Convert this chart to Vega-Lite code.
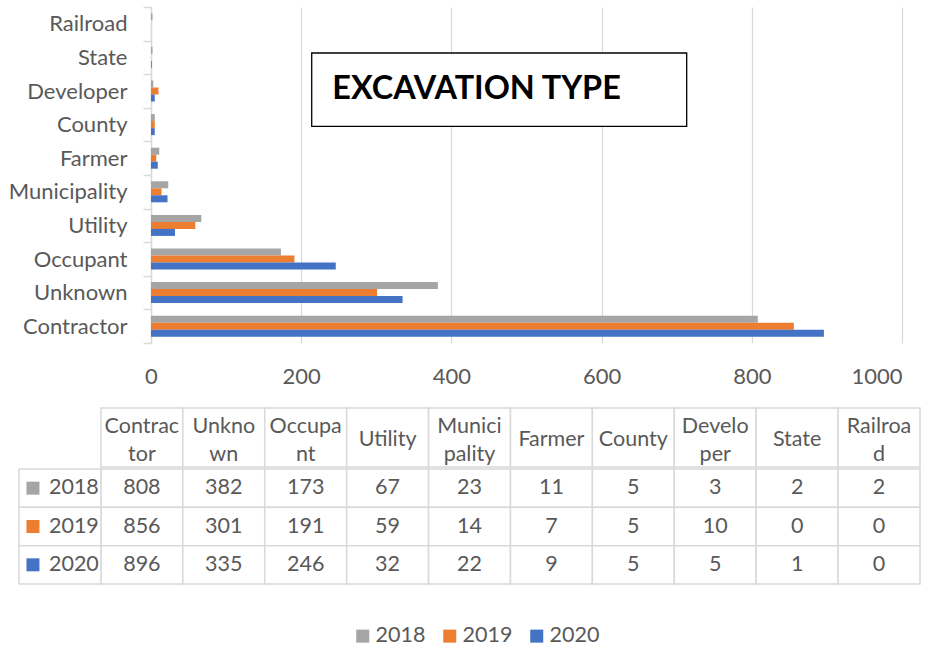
{
  "$schema": "https://vega.github.io/schema/vega-lite/v6.json",
  "background": "white",
  "padding": {"left": 8, "top": -4, "right": 5, "bottom": 5},
  "datasets": {
    "counts": [
      {"type": "Contractor", "year": "2018", "count": 808},
      {"type": "Contractor", "year": "2019", "count": 856},
      {"type": "Contractor", "year": "2020", "count": 896},
      {"type": "Unknown", "year": "2018", "count": 382},
      {"type": "Unknown", "year": "2019", "count": 301},
      {"type": "Unknown", "year": "2020", "count": 335},
      {"type": "Occupant", "year": "2018", "count": 173},
      {"type": "Occupant", "year": "2019", "count": 191},
      {"type": "Occupant", "year": "2020", "count": 246},
      {"type": "Utility", "year": "2018", "count": 67},
      {"type": "Utility", "year": "2019", "count": 59},
      {"type": "Utility", "year": "2020", "count": 32},
      {"type": "Municipality", "year": "2018", "count": 23},
      {"type": "Municipality", "year": "2019", "count": 14},
      {"type": "Municipality", "year": "2020", "count": 22},
      {"type": "Farmer", "year": "2018", "count": 11},
      {"type": "Farmer", "year": "2019", "count": 7},
      {"type": "Farmer", "year": "2020", "count": 9},
      {"type": "County", "year": "2018", "count": 5},
      {"type": "County", "year": "2019", "count": 5},
      {"type": "County", "year": "2020", "count": 5},
      {"type": "Developer", "year": "2018", "count": 3},
      {"type": "Developer", "year": "2019", "count": 10},
      {"type": "Developer", "year": "2020", "count": 5},
      {"type": "State", "year": "2018", "count": 2},
      {"type": "State", "year": "2019", "count": 0},
      {"type": "State", "year": "2020", "count": 1},
      {"type": "Railroad", "year": "2018", "count": 2},
      {"type": "Railroad", "year": "2019", "count": 0},
      {"type": "Railroad", "year": "2020", "count": 0}
    ],
    "types": [
      {"type": "Contractor", "head": "Contrac\ntor"},
      {"type": "Unknown", "head": "Unkno\nwn"},
      {"type": "Occupant", "head": "Occupa\nnt"},
      {"type": "Utility", "head": "Utility"},
      {"type": "Municipality", "head": "Munici\npality"},
      {"type": "Farmer", "head": "Farmer"},
      {"type": "County", "head": "County"},
      {"type": "Developer", "head": "Develo\nper"},
      {"type": "State", "head": "State"},
      {"type": "Railroad", "head": "Railroa\nd"}
    ],
    "years": [{"year": "2018"}, {"year": "2019"}, {"year": "2020"}]
  },
  "spacing": 20,
  "resolve": {"scale": {"x": "independent", "y": "independent", "color": "shared"}},
  "vconcat": [
    {
      "width": 883,
      "height": 336,
      "resolve": {"scale": {"y": "independent"}},
      "layer": [
        {
          "data": {"name": "counts"},
          "mark": {"type": "bar"},
          "encoding": {
            "y": {
              "field": "type", "type": "nominal",
              "scale": {"domain": ["Railroad", "State", "Developer", "County", "Farmer", "Municipality", "Utility", "Occupant", "Unknown", "Contractor"], "paddingInner": 0, "paddingOuter": 0},
              "axis": {"title": null, "orient": "left", "offset": -132, "tickBand": "extent", "tickSize": 8, "tickColor": "#D9D9D9", "tickWidth": 1.5, "domainColor": "#D9D9D9", "domainWidth": 1.5, "labelPadding": 16, "labelFont": "Lato", "labelFontSize": 22, "labelColor": "#595959", "grid": false}
            },
            "yOffset": {
              "field": "year", "type": "nominal",
              "scale": {"domain": ["2018", "2019", "2020"], "paddingInner": 0, "paddingOuter": 0.9}
            },
            "x": {
              "field": "count", "type": "quantitative", "stack": null,
              "scale": {"domain": [-175.76, 1000], "nice": false},
              "axis": {"title": null, "values": [0, 200, 400, 600, 800, 1000], "format": "d", "grid": true, "gridColor": "#D9D9D9", "gridWidth": 1.2, "domain": false, "ticks": false, "labelPadding": 23, "labelFont": "Lato", "labelFontSize": 22, "labelColor": "#595959"}
            },
            "color": {
              "field": "year", "type": "nominal",
              "scale": {"domain": ["2018", "2019", "2020"], "range": ["#A5A5A5", "#ED7D31", "#4472C4"]},
              "legend": {"orient": "bottom", "direction": "horizontal", "title": " ", "titleOrient": "left", "titlePadding": 24, "titleFontSize": 1, "symbolType": "square", "symbolSize": 169, "symbolStrokeWidth": 0, "labelFont": "Lato", "labelFontSize": 21.5, "labelColor": "#595959", "columnPadding": 13, "labelOffset": 2, "offset": 40}
            }
          }
        },
        {
          "data": {"values": [{"label": "EXCAVATION TYPE"}]},
          "layer": [
            {
              "mark": {"type": "rect", "fill": "white", "stroke": "black", "strokeWidth": 1.3},
              "encoding": {
                "x": {"datum": 214, "type": "quantitative"},
                "x2": {"datum": 713.3},
                "y": {"datum": 1.369, "type": "quantitative", "scale": {"domain": [0, 10], "reverse": true, "nice": false}, "axis": null},
                "y2": {"datum": 3.551}
              }
            },
            {
              "mark": {"type": "text", "align": "left", "baseline": "alphabetic", "font": "Lato", "fontWeight": "bold", "fontSize": 32.4, "color": "black"},
              "encoding": {
                "x": {"datum": 241.4, "type": "quantitative"},
                "y": {"datum": 2.738, "type": "quantitative"},
                "text": {"field": "label"}
              }
            }
          ]
        }
      ]
    },
    {
      "spacing": 0,
      "resolve": {"scale": {"x": "independent", "y": "independent", "color": "shared"}},
      "vconcat": [
        {
          "width": 901,
          "height": 59,
          "data": {"name": "types"},
          "encoding": {
            "x": {"field": "type", "type": "nominal", "scale": {"domain": ["year", "Contractor", "Unknown", "Occupant", "Utility", "Municipality", "Farmer", "County", "Developer", "State", "Railroad"], "paddingInner": 0, "paddingOuter": 0}, "axis": null},
            "y": {"datum": "h", "type": "nominal", "scale": {"domain": ["h"], "paddingInner": 0, "paddingOuter": 0}, "axis": null}
          },
          "layer": [
            {
              "mark": {"type": "rect", "fill": "white", "stroke": "#D9D9D9", "strokeWidth": 1.5}
            },
            {
              "transform": [{"filter": "indexof(datum.head, '\\n') < 0"}],
              "mark": {"type": "text", "dy": 2, "font": "Lato", "fontSize": 21.5, "color": "#595959", "baseline": "middle", "align": "center"},
              "encoding": {"text": {"field": "head"}}
            },
            {
              "transform": [{"filter": "indexof(datum.head, '\\n') >= 0"}],
              "mark": {"type": "text", "lineBreak": "\n", "lineHeight": 28, "dy": -11, "font": "Lato", "fontSize": 21.5, "color": "#595959", "baseline": "middle", "align": "center"},
              "encoding": {"text": {"field": "head"}}
            }
          ]
        },
        {
          "width": 901,
          "height": 115,
          "encoding": {
            "y": {"field": "year", "type": "nominal", "scale": {"domain": ["2018", "2019", "2020"], "paddingInner": 0, "paddingOuter": 0}, "axis": null}
          },
          "layer": [
            {
              "data": {"name": "counts"},
              "mark": {"type": "rect", "fill": "white", "stroke": "#D9D9D9", "strokeWidth": 1.5},
              "encoding": {
                "x": {"field": "type", "type": "nominal", "scale": {"domain": ["year", "Contractor", "Unknown", "Occupant", "Utility", "Municipality", "Farmer", "County", "Developer", "State", "Railroad"], "paddingInner": 0, "paddingOuter": 0}, "axis": null}
              }
            },
            {
              "data": {"name": "years"},
              "mark": {"type": "rect", "fill": "white", "stroke": "#D9D9D9", "strokeWidth": 1.5},
              "encoding": {
                "x": {"datum": "year", "type": "nominal"}
              }
            },
            {
              "data": {"name": "counts"},
              "mark": {"type": "text", "font": "Lato", "fontSize": 21.5, "color": "#595959", "baseline": "middle", "align": "center"},
              "encoding": {
                "x": {"field": "type", "type": "nominal"},
                "text": {"field": "count", "type": "quantitative"}
              }
            },
            {
              "data": {"name": "years"},
              "mark": {"type": "square", "size": 169, "opacity": 1, "xOffset": -27},
              "encoding": {
                "x": {"datum": "year", "type": "nominal"},
                "color": {
                  "field": "year", "type": "nominal",
                  "legend": {"orient": "bottom", "direction": "horizontal", "title": " ", "titleOrient": "left", "titlePadding": 24, "titleFontSize": 1, "symbolType": "square", "symbolSize": 169, "symbolStrokeWidth": 0, "labelFont": "Lato", "labelFontSize": 21.5, "labelColor": "#595959", "columnPadding": 13, "labelOffset": 2, "offset": 40}
                }
              }
            },
            {
              "data": {"name": "years"},
              "mark": {"type": "text", "font": "Lato", "fontSize": 21.5, "color": "#595959", "baseline": "middle", "align": "left", "dx": -11},
              "encoding": {
                "x": {"datum": "year", "type": "nominal"},
                "text": {"field": "year"}
              }
            }
          ]
        }
      ]
    }
  ],
  "config": {
    "view": {"stroke": null},
    "font": "Lato",
    "legend": {"layout": {"bottom": {"anchor": "middle"}}}
  }
}
